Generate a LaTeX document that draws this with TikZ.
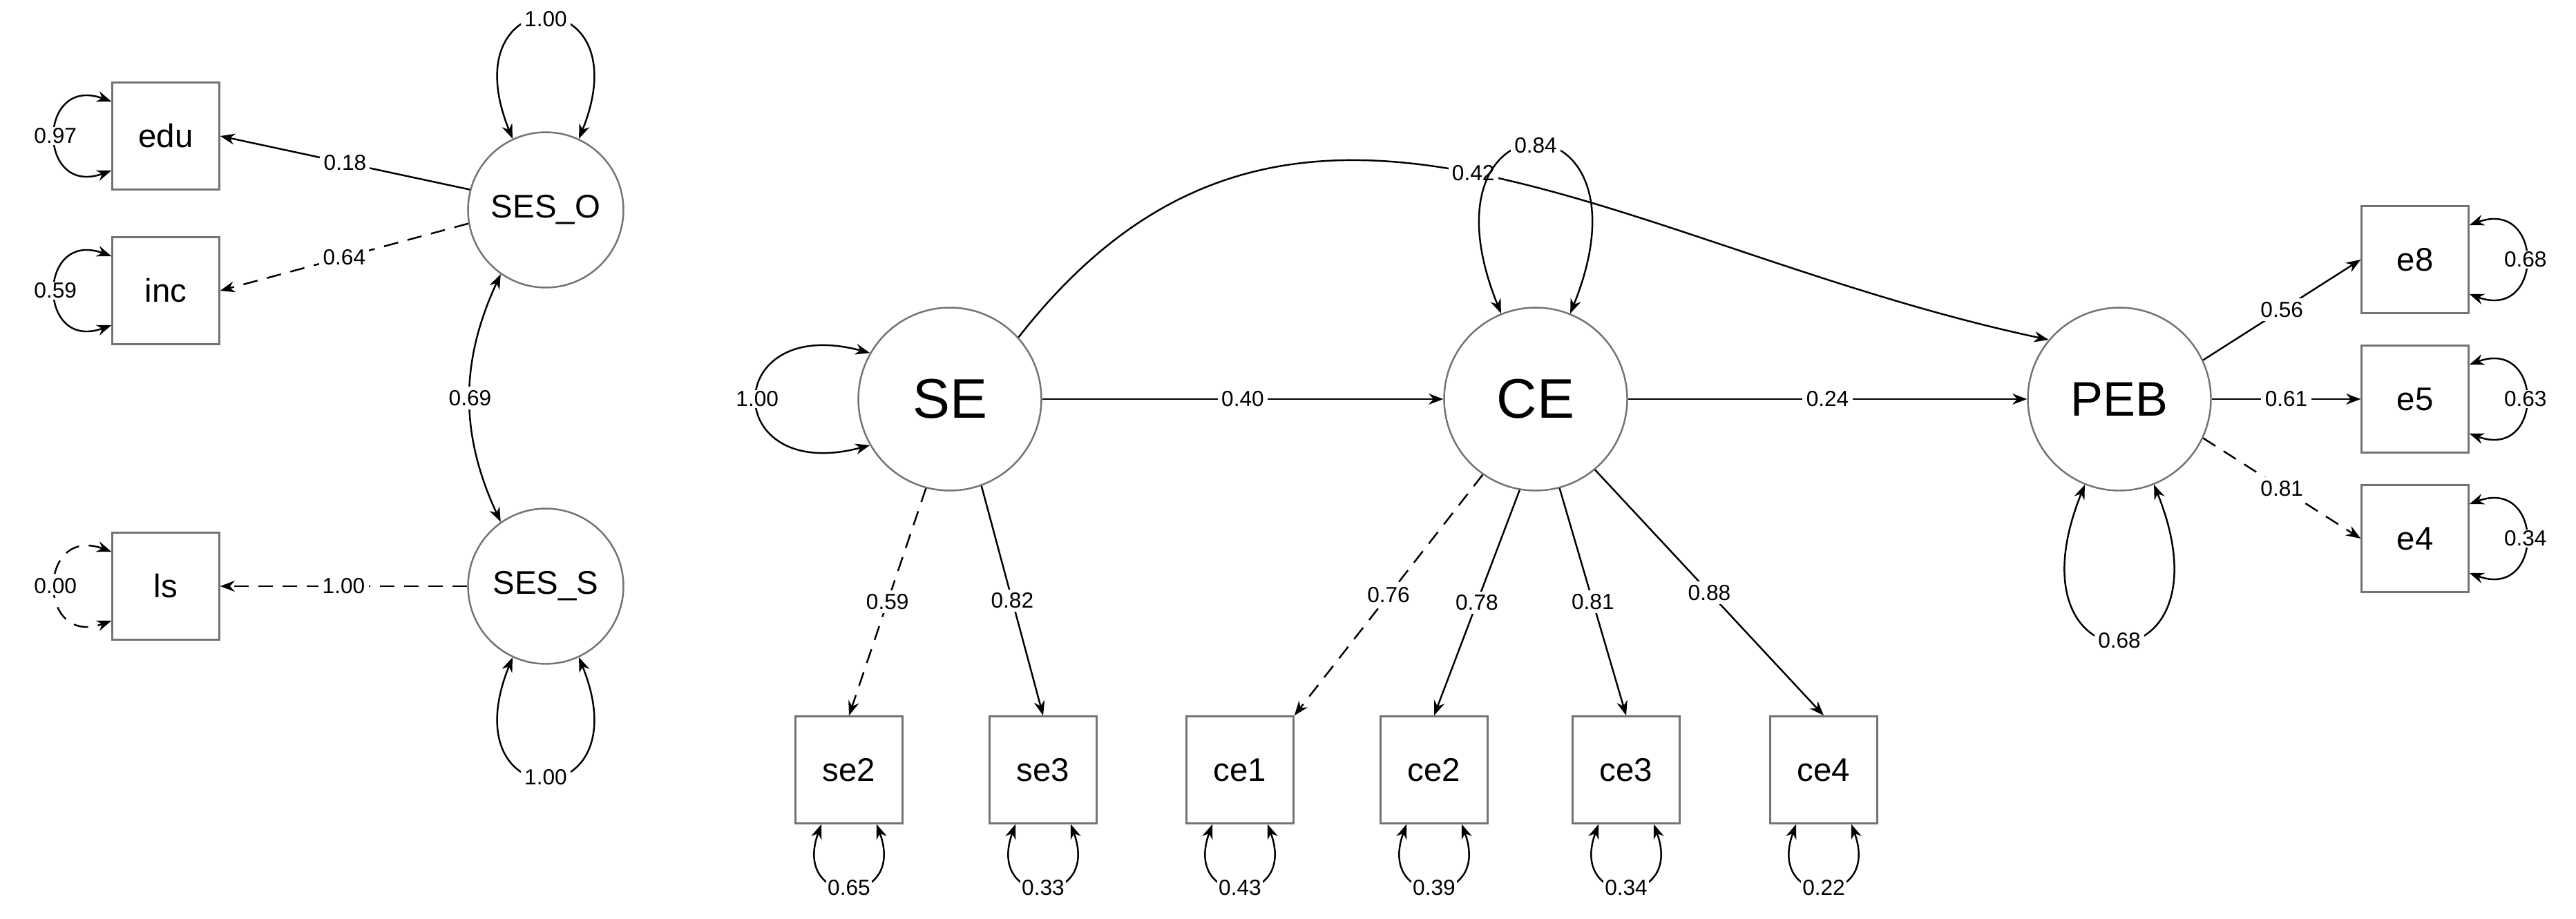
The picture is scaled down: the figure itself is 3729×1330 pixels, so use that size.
\documentclass[tikz,border=0pt]{standalone}
\usepackage{fontspec}
\setmainfont{Liberation Sans}
\usetikzlibrary{arrows.meta}
\begin{document}
\begin{tikzpicture}[x=0.02cm,y=-0.02cm,
  line width=1.4pt, >={Stealth[length=12pt,width=9pt]},
  dsh/.style={dash pattern=on 12pt off 8pt},
  obs/.style={draw=black!55, line width=1.4pt, minimum width=3.1cm, minimum height=3.1cm, inner sep=0pt, font=\fontsize{27}{30}\selectfont},
  lat/.style={draw=black!55, line width=1.4pt, circle, minimum size=4.5cm, inner sep=0pt, font=\fontsize{27}{30}\selectfont},
  big/.style={lat, minimum size=5.3cm, font=\fontsize{46}{50}\selectfont},
  lab/.style={fill=white, inner sep=3pt, font=\fontsize{18}{20}\selectfont},
]
\useasboundingbox (0,0) rectangle (3729,1330);
% observed
\node[obs] (edu) at (240,197) {edu};
\node[obs] (inc) at (240,421) {inc};
\node[obs] (ls) at (240,849) {ls};
\node[obs] (e8) at (3496,376) {e8};
\node[obs] (e5) at (3496,578) {e5};
\node[obs] (e4) at (3496,780) {e4};
\node[obs] (se2) at (1229,1115) {se2};
\node[obs] (se3) at (1510,1115) {se3};
\node[obs] (ce1) at (1795,1115) {ce1};
\node[obs] (ce2) at (2076,1115) {ce2};
\node[obs] (ce3) at (2354,1115) {ce3};
\node[obs] (ce4) at (2640,1115) {ce4};
% latent
\node[lat] (sesO) at (790,304) {SES\_O};
\node[lat] (sesS) at (790,849) {SES\_S};
\node[big] (SE) at (1375,578) {SE};
\node[big] (CE) at (2223,578) {CE};
\node[big,font=\fontsize{40}{44}\selectfont] (PEB) at (3068,578) {PEB};
% loadings
\draw[->] (sesO.165) -- node[lab,pos=0.5]{0.18} (edu.east);
\draw[->,dsh] (sesO.190) -- node[lab,pos=0.5]{0.64} (inc.east);
\draw[->,dsh] (sesS.west) -- node[lab,pos=0.5]{1.00} (ls.east);
\draw[<->] (sesO.235) to[bend right=25] node[lab]{0.69} (sesS.125);
\draw[->,dsh] (SE.255) -- node[lab]{0.59} (se2.north);
\draw[->] (SE.290) -- node[lab]{0.82} (se3.north);
\draw[->,dsh] (CE.235) -- node[lab]{0.76} (ce1.north east);
\draw[->] (CE.260) -- node[lab]{0.78} (ce2.north);
\draw[->] (CE.285) -- node[lab]{0.81} (ce3.north);
\draw[->] (CE.310) -- node[lab]{0.88} (ce4.north);
\draw[->] (PEB.25) -- node[lab]{0.56} (e8.west);
\draw[->] (PEB.east) -- node[lab]{0.61} (e5.west);
\draw[->,dsh] (PEB.335) -- node[lab]{0.81} (e4.west);
% paths
\draw[->] (SE.east) -- node[lab]{0.40} (CE.west);
\draw[->] (CE.east) -- node[lab]{0.24} (PEB.west);
\draw[->] (SE.42) to[out=52,in=168,looseness=1.1] node[lab,pos=0.5]{0.42} (PEB.140);
% residuals on boxes (left)
\foreach \n/\v/\s in {edu/0.97/solid, inc/0.59/solid, ls/0.00/dsh}{
  \draw[<->,\s] ([yshift=1cm]\n.west) .. controls +(160:2.3cm) and +(200:2.3cm) .. node[lab,inner sep=1pt]{\v} ([yshift=-1cm]\n.west);
}
% right
\foreach \n/\v in {e8/0.68, e5/0.63, e4/0.34}{
  \draw[<->] ([yshift=1cm]\n.east) .. controls +(20:2.3cm) and +(-20:2.3cm) .. node[lab,inner sep=1pt]{\v} ([yshift=-1cm]\n.east);
}
% bottom
\foreach \n/\v in {se2/0.65, se3/0.33, ce1/0.43, ce2/0.39, ce3/0.34, ce4/0.22}{
  \draw[<->] ([xshift=-0.8cm]\n.south) .. controls +(-110:2.6cm) and +(-70:2.6cm) .. node[lab,inner sep=1pt]{\v} ([xshift=0.8cm]\n.south);
}
% latent loops
\draw[<->] (sesO.115) .. controls +(112:5cm) and +(68:5cm) .. node[lab]{1.00} (sesO.65);
\draw[<->] (sesS.245) .. controls +(248:5cm) and +(292:5cm) .. node[lab]{1.00} (sesS.295);
\draw[<->] (CE.112) .. controls +(112:7cm) and +(68:7cm) .. node[lab]{0.84} (CE.68);
\draw[<->] (PEB.248) .. controls +(248:6.5cm) and +(292:6.5cm) .. node[lab]{0.68} (PEB.292);
\draw[<->] (SE.150) .. controls +(165:4.5cm) and +(195:4.5cm) .. node[lab,inner sep=1pt]{1.00} (SE.210);
\end{tikzpicture}
\end{document}
